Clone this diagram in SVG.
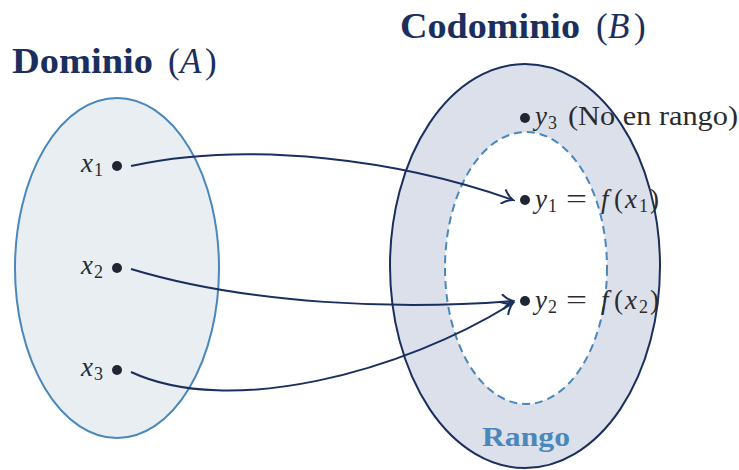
<svg xmlns="http://www.w3.org/2000/svg" width="739" height="470" viewBox="0 0 739 470">
<style>
.title{font-family:"Liberation Serif","DejaVu Serif",serif;font-weight:bold;font-size:35px;fill:#1b2f5e}
.tm{font-family:"Liberation Serif","DejaVu Serif",serif;font-size:35px;fill:#1b2f5e}
.m{font-family:"Liberation Serif","DejaVu Serif",serif;font-size:27px;fill:#2b2b2b}
.i{font-style:italic}
.sub{font-family:"Liberation Serif","DejaVu Serif",serif;font-size:18px;fill:#2b2b2b}
.dot{fill:#1f2533}
.conn{fill:none;stroke:#1b2f5e;stroke-width:2}
</style>
<defs>
<marker id="arr" viewBox="0 0 14 16" refX="12" refY="8" markerWidth="14" markerHeight="16" markerUnits="userSpaceOnUse" orient="auto">
<path d="M2,1 Q7,6.5 12,8 Q7,9.5 2,15" fill="none" stroke="#1b2f5e" stroke-width="2" stroke-linecap="round"/>
</marker>
</defs>
<rect width="739" height="470" fill="#fff"/>
<g id="dominio">
<ellipse cx="117" cy="268" rx="102" ry="170" fill="#e9eef3" stroke="#4a87bb" stroke-width="2"/>
<text class="title" x="12" y="73" textLength="141" lengthAdjust="spacingAndGlyphs">Dominio</text>
<text class="tm" x="168" y="73">(</text>
<text class="tm i" x="180" y="73">A</text>
<text class="tm" x="205" y="73">)</text>
</g>
<g id="codominio">
<ellipse cx="525" cy="266" rx="135" ry="202" fill="#dce0eb" stroke="#1b2f5e" stroke-width="2"/>
<text class="title" x="400" y="38" textLength="180" lengthAdjust="spacingAndGlyphs">Codominio</text>
<text class="tm" x="596" y="38">(</text>
<text class="tm i" x="608" y="38">B</text>
<text class="tm" x="634" y="38">)</text>
</g>
<g id="rango">
<ellipse cx="526" cy="268" rx="81" ry="136" fill="#fff" stroke="#4a87bb" stroke-width="2" stroke-dasharray="8,5"/>
<text x="482" y="446" textLength="88" lengthAdjust="spacingAndGlyphs" font-family="Liberation Serif, DejaVu Serif, serif" font-weight="bold" font-size="27" fill="#4a87bb">Rango</text>
</g>
<g id="x1">
<circle class="dot" cx="117" cy="166" r="5"/>
<text class="m i" x="81" y="172">x</text><text class="sub" x="94" y="176">1</text>
</g>
<g id="x2">
<circle class="dot" cx="117" cy="268" r="5"/>
<text class="m i" x="81" y="274">x</text><text class="sub" x="94" y="278">2</text>
</g>
<g id="x3">
<circle class="dot" cx="117" cy="370" r="5"/>
<text class="m i" x="81" y="376">x</text><text class="sub" x="94" y="380">3</text>
</g>
<g id="y3">
<circle class="dot" cx="525" cy="118" r="5"/>
<text class="m i" x="535" y="125">y</text><text class="sub" x="548" y="129">3</text>
<text class="m" x="568" y="125" textLength="170" lengthAdjust="spacingAndGlyphs">(No en rango)</text>
</g>
<g id="y1">
<circle class="dot" cx="525" cy="200" r="5"/>
<text class="m i" x="535" y="208">y</text><text class="sub" x="548" y="212">1</text>
<text class="m" x="566" y="208" textLength="21" lengthAdjust="spacingAndGlyphs">=</text>
<text class="m i" x="601" y="208">f</text>
<text class="m" x="614" y="208">(</text>
<text class="m i" x="625" y="208">x</text><text class="sub" x="639" y="212">1</text>
<text class="m" x="650" y="208">)</text>
</g>
<g id="y2">
<circle class="dot" cx="525" cy="301" r="5"/>
<text class="m i" x="535" y="309">y</text><text class="sub" x="548" y="313">2</text>
<text class="m" x="566" y="309" textLength="21" lengthAdjust="spacingAndGlyphs">=</text>
<text class="m i" x="601" y="309">f</text>
<text class="m" x="614" y="309">(</text>
<text class="m i" x="625" y="309">x</text><text class="sub" x="639" y="313">2</text>
<text class="m" x="650" y="309">)</text>
</g>
<g id="connectors">
<path class="conn" d="M131,166 C250,140 400,160 513,200" marker-end="url(#arr)"/>
<path class="conn" d="M131,269 C250,305 400,310 513,301" marker-end="url(#arr)"/>
<path class="conn" d="M131,372 C230,418 403,372 513,303" marker-end="url(#arr)"/>
</g>
</svg>
